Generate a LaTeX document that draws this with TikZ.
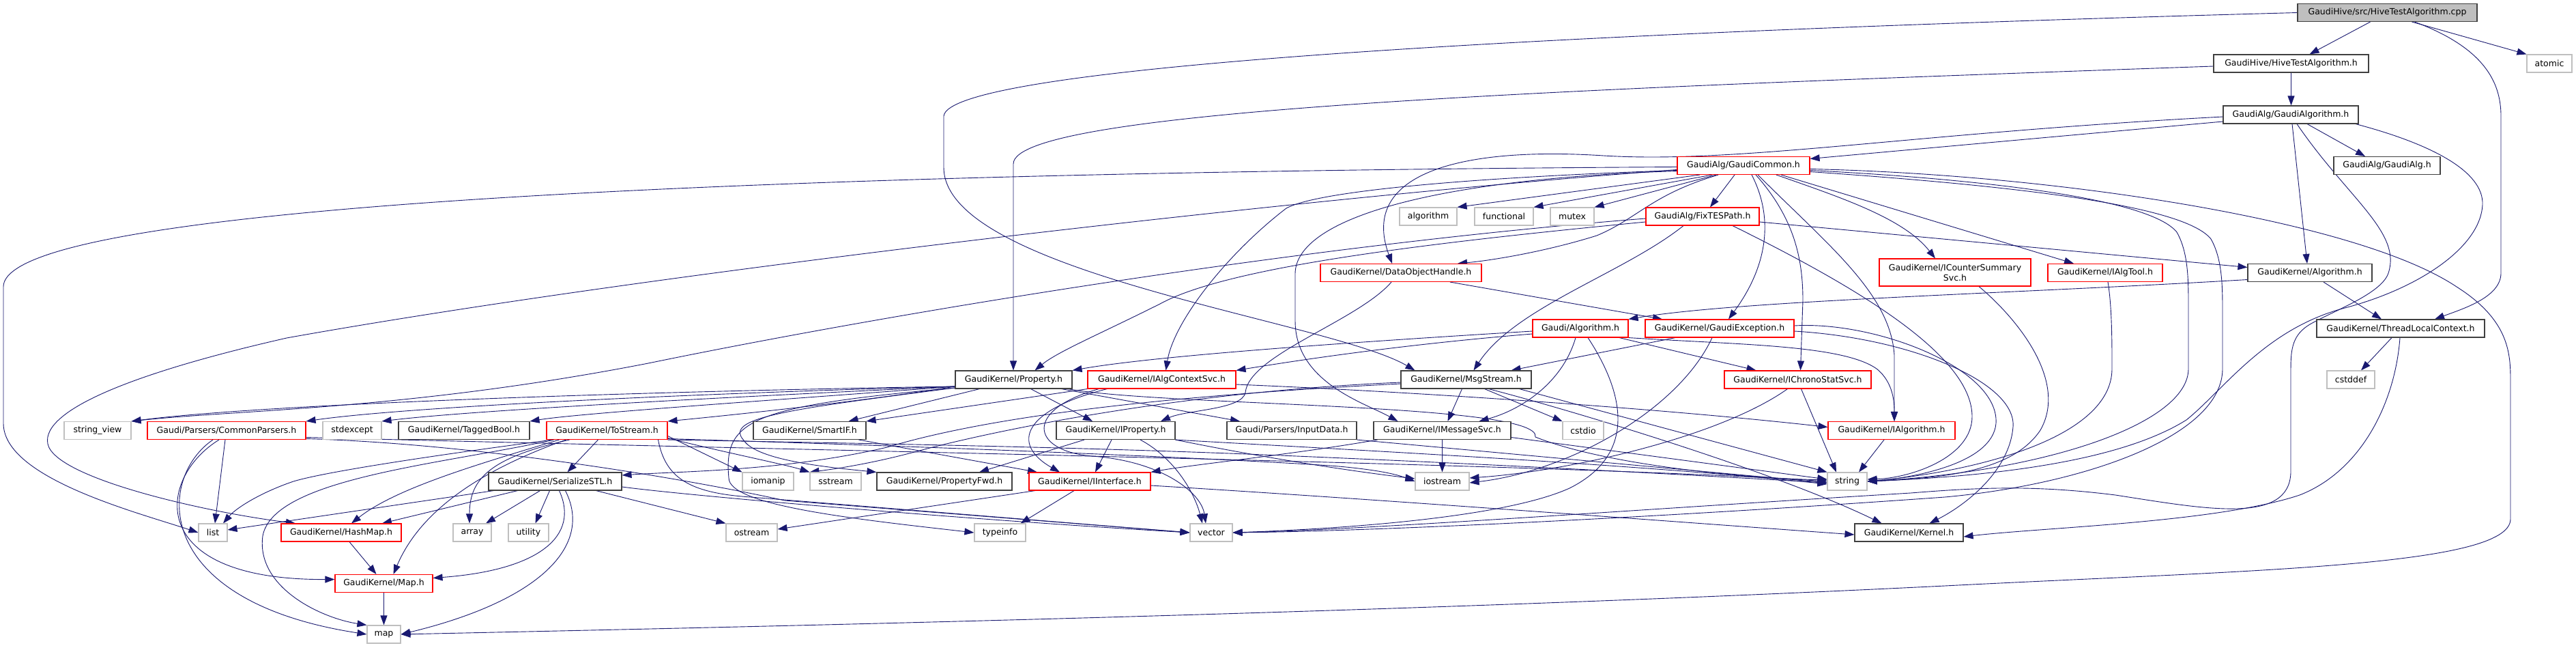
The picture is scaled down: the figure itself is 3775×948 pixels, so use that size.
\documentclass[tikz,border=0pt]{standalone}
\usepackage{fontspec}
\setmainfont{DejaVu Sans}
\usetikzlibrary{arrows.meta}
\definecolor{edgec}{HTML}{191970}
\definecolor{grayb}{HTML}{BFBFBF}
\definecolor{redb}{HTML}{FF0000}
\definecolor{blkb}{HTML}{404040}
\pgfdeclarelayer{bg}
\pgfsetlayers{bg,main}
\tikzset{
 nd/.style={draw, line width=1.1pt, minimum height=26pt, inner sep=0pt, fill=white, font=\fontsize{12.5}{15}\selectfont},
 nbk/.style={nd, draw=blkb},
 nrd/.style={nd, draw=redb},
 ngr/.style={nd, draw=grayb},
 ed/.style={draw=edgec, line width=0.9pt, -{Triangle[length=14pt,width=10pt]}},
}
\begin{document}
\begin{tikzpicture}[x=1pt,y=-1pt]
\useasboundingbox (0,0) rectangle (3775,948);
% nodes
\node[nbk, fill=grayb, minimum width=263pt] (cpp) at (3498.5,18.5) {GaudiHive/src/HiveTestAlgorithm.cpp};
\node[nbk, minimum width=227pt] (hiveh) at (3357.5,93) {GaudiHive/HiveTestAlgorithm.h};
\node[ngr, minimum width=66pt] (atomic) at (3736,93) {atomic};
\node[nbk, minimum width=198pt] (galgo) at (3357,168) {GaudiAlg/GaudiAlgorithm.h};
\node[nrd, minimum width=194pt] (gcommon) at (2555,242.5) {GaudiAlg/GaudiCommon.h};
\node[nbk, minimum width=156pt] (galg) at (3498,242.5) {GaudiAlg/GaudiAlg.h};
\node[ngr, minimum width=84pt] (algorithm) at (2093,317) {algorithm};
\node[ngr, minimum width=86pt] (functional) at (2204,317) {functional};
\node[ngr, minimum width=64pt] (mutex) at (2304,317) {mutex};
\node[nrd, minimum width=166pt] (fixtes) at (2495,317) {GaudiAlg/FixTESPath.h};
\node[nrd, minimum width=236pt] (doh) at (2053,399.5) {GaudiKernel/DataObjectHandle.h};
\node[nrd, minimum width=222pt, minimum height=40pt, align=center] (icounter) at (2865,399) {GaudiKernel/ICounterSummary\\Svc.h};
\node[nrd, minimum width=168pt] (ialgtool) at (3085,399.5) {GaudiKernel/IAlgTool.h};
\node[nbk, minimum width=182pt] (kalgo) at (3385,399.5) {GaudiKernel/Algorithm.h};
\node[nrd, minimum width=140pt] (galgorithm) at (2316,481) {Gaudi/Algorithm.h};
\node[nrd, minimum width=218pt] (gexc) at (2520,481) {GaudiKernel/GaudiException.h};
\node[nbk, minimum width=246pt] (tlc) at (3518,481) {GaudiKernel/ThreadLocalContext.h};
\node[nbk, minimum width=171pt] (property) at (1485.5,556) {GaudiKernel/Property.h};
\node[nrd, minimum width=217pt] (iacs) at (1702.5,556) {GaudiKernel/IAlgContextSvc.h};
\node[nbk, minimum width=191pt] (msgstream) at (2148.5,556) {GaudiKernel/MsgStream.h};
\node[nrd, minimum width=215pt] (ichrono) at (2634.5,556) {GaudiKernel/IChronoStatSvc.h};
\node[ngr, minimum width=70pt] (cstddef) at (3445,556) {cstddef};
\node[ngr, minimum width=98pt] (stringview) at (143,630.5) {string\_view};
\node[nrd, minimum width=232pt] (commonparsers) at (332,630.5) {Gaudi/Parsers/CommonParsers.h};
\node[ngr, minimum width=86pt] (stdexcept) at (516,630.5) {stdexcept};
\node[nbk, minimum width=192pt] (taggedbool) at (680,630.5) {GaudiKernel/TaggedBool.h};
\node[nrd, minimum width=177pt] (tostream) at (889.5,630.5) {GaudiKernel/ToStream.h};
\node[nbk, minimum width=165pt] (smartif) at (1186.5,630.5) {GaudiKernel/SmartIF.h};
\node[nbk, minimum width=174pt] (iproperty) at (1635,630.5) {GaudiKernel/IProperty.h};
\node[nbk, minimum width=190pt] (inputdata) at (1893,630.5) {Gaudi/Parsers/InputData.h};
\node[nbk, minimum width=201pt] (imsgsvc) at (2113.5,630.5) {GaudiKernel/IMessageSvc.h};
\node[ngr, minimum width=60pt] (cstdio) at (2320,630.5) {cstdio};
\node[nrd, minimum width=186pt] (ialgorithm) at (2772,630.5) {GaudiKernel/IAlgorithm.h};
\node[nbk, minimum width=195pt] (serialize) at (813.5,705) {GaudiKernel/SerializeSTL.h};
\node[ngr, minimum width=75pt] (iomanip) at (1125.5,705) {iomanip};
\node[ngr, minimum width=75pt] (sstream) at (1224.5,705) {sstream};
\node[nbk, minimum width=198pt] (propfwd) at (1384,705) {GaudiKernel/PropertyFwd.h};
\node[nrd, minimum width=178pt] (iinterface) at (1597,705) {GaudiKernel/IInterface.h};
\node[ngr, minimum width=79pt] (iostream) at (2113.5,705) {iostream};
\node[ngr, minimum width=58pt] (string) at (2707,705) {string};
\node[ngr, minimum width=42pt] (list) at (312,780) {list};
\node[nrd, minimum width=176pt] (hashmap) at (500,780) {GaudiKernel/HashMap.h};
\node[ngr, minimum width=56pt] (array) at (692,780) {array};
\node[ngr, minimum width=59pt] (utility) at (774.5,780) {utility};
\node[ngr, minimum width=75pt] (ostream) at (1101.5,780) {ostream};
\node[ngr, minimum width=75pt] (typeinfo) at (1465.5,780) {typeinfo};
\node[ngr, minimum width=62pt] (vector) at (1775,780) {vector};
\node[nbk, minimum width=159pt] (kernel) at (2797.5,780) {GaudiKernel/Kernel.h};
\node[nrd, minimum width=143pt] (maph) at (562.5,854.5) {GaudiKernel/Map.h};
\node[ngr, minimum width=49pt] (map) at (562.5,929) {map};

\begin{pgfonlayer}{bg}
\fill[white] (0,0) rectangle (3775,948);
% top part
\draw[ed] ([xshift=-25pt]cpp.south) -- ([xshift=27pt]hiveh.north);
\draw[ed] ([xshift=36pt]cpp.south) -- (atomic.north west);
\draw[ed] ([xshift=40pt]cpp.south) .. controls (3640,70) and (3665,120) .. (3665,170) -- (3665,400) .. controls (3665,435) and (3610,452) .. ([xshift=50pt]tlc.north);
\draw[ed] (cpp.west) .. controls (2200,50) and (1390,100) .. (1383,170) -- (1383,245) .. controls (1383,400) and (1950,470) .. ([xshift=-75pt]msgstream.north);
\draw[ed] (hiveh.south) -- ([xshift=0.5pt]galgo.north);
\draw[ed] ([yshift=-4pt]hiveh.west) .. controls (2300,130) and (1485,160) .. (1485,240) -- ([xshift=-0.5pt]property.north);
\draw[ed] ([yshift=-10pt]galgo.west) -- ([yshift=10pt]gcommon.east);
\draw[ed] ([yshift=-3pt]galgo.west) .. controls (2800,195) and (2550,240) .. (2350,228) .. controls (2150,215) and (1990,250) .. ([xshift=-13pt]doh.north);
\draw[ed] ([xshift=24pt]galgo.south) -- ([xshift=-32pt]galg.north);
\draw[ed] ([xshift=2pt]galgo.south) -- ([xshift=-4pt]kalgo.north);
\draw[ed] ([xshift=9pt]galgo.south) .. controls (3440,290) and (3520,340) .. (3500,400) .. controls (3490,430) and (3420,455) .. (3385,475) .. controls (3360,490) and (3357,510) .. (3357,540) -- (3357,690) .. controls (3357,770) and (3230,745) .. (3100,725) .. controls (2980,710) and (2900,714) .. (2800,722) .. controls (2400,746) and (2000,776) .. (vector.east);
\draw[ed] ([xshift=95pt]galgo.south) .. controls (3560,210) and (3640,250) .. (3638,300) .. controls (3635,360) and (3550,420) .. (3440,450) .. controls (3320,480) and (3260,570) .. (3204,615) .. controls (3100,680) and (2900,698) .. (string.east);
% GaudiCommon
\draw[ed] ([yshift=-2pt]gcommon.west) .. controls (1500,250) and (5,280) .. (5,420) -- (5,620) .. controls (5,700) and (200,750) .. (list.west);
\draw[ed] ([yshift=-6pt]gcommon.west) .. controls (1900,290) and (950,400) .. (420,495) .. controls (200,545) and (60,600) .. (70,650) .. controls (80,700) and (300,750) .. ([xshift=-67pt]hashmap.north);
\draw[ed] ([xshift=-64pt]gcommon.south) -- (algorithm.north east);
\draw[ed] ([xshift=-46pt]gcommon.south) -- (functional.north east);
\draw[ed] ([xshift=-40pt]gcommon.south) -- (mutex.north east);
\draw[ed] ([xshift=-13pt]gcommon.south) -- ([xshift=11pt]fixtes.north);
\draw[ed] ([xshift=-37pt]gcommon.south) .. controls (2420,285) and (2400,320) .. (2340,345) .. controls (2260,370) and (2180,382) .. ([xshift=83pt]doh.north);
\draw[ed] ([xshift=12pt]gcommon.south) .. controls (2600,320) and (2590,390) .. ([xshift=13pt]gexc.north);
\draw[ed] ([xshift=18pt]gcommon.south) .. controls (2630,320) and (2642,380) .. (2642,440) -- ([xshift=4pt]ichrono.north);
\draw[ed] ([xshift=21pt]gcommon.south) .. controls (2680,360) and (2770,430) .. (2776,520) -- ([xshift=4pt]ialgorithm.north);
\draw[ed] ([xshift=48pt]gcommon.south) .. controls (2700,290) and (2790,320) .. ([xshift=-29pt]icounter.north);
\draw[ed] ([xshift=55pt]gcommon.south) -- ([xshift=-46pt]ialgtool.north);
\draw[ed] ([yshift=-7pt]gcommon.east) .. controls (2900,262) and (3150,290) .. (3190,340) .. controls (3207,370) and (3207,410) .. (3207,450) -- (3207,540) .. controls (3207,620) and (3000,690) .. (string.east);
\draw[ed] ([yshift=-9pt]gcommon.east) .. controls (2950,272) and (3200,300) .. (3240,350) .. controls (3257,380) and (3257,420) .. (3257,460) -- (3257,540) .. controls (3257,640) and (3050,710) .. (2850,728) .. controls (2400,760) and (2000,778) .. (vector.east);
\draw[ed] ([yshift=-5pt]gcommon.east) .. controls (3000,255) and (3450,320) .. (3600,420) .. controls (3679,470) and (3679,520) .. (3679,560) -- (3679,760) .. controls (3679,830) and (3300,835) .. (2850,858) .. controls (2000,900) and (1000,920) .. (map.east);
\draw[ed] ([yshift=-7pt]gcommon.west) .. controls (2150,260) and (1930,280) .. (1885,305) .. controls (1800,370) and (1720,470) .. ([xshift=6pt]iacs.north);
\draw[ed] ([yshift=-8pt]gcommon.west) .. controls (2100,262) and (1900,320) .. (1898,400) -- (1898,470) .. controls (1898,560) and (2000,590) .. ([xshift=-65pt]imsgsvc.north);
% FixTESPath
\draw[ed] ([yshift=-8pt]fixtes.west) .. controls (2100,355) and (1800,390) .. (1700,445) .. controls (1610,490) and (1550,515) .. ([xshift=31pt]property.north);
\draw[ed] ([yshift=-3pt]fixtes.west) .. controls (1900,360) and (1300,460) .. (950,532) .. controls (600,600) and (350,600) .. (stringview.north east);
\draw[ed] ([yshift=-8pt]fixtes.east) -- ([yshift=8pt]kalgo.west);
\draw[ed] ([xshift=-28pt]fixtes.south) .. controls (2380,400) and (2220,450) .. ([xshift=11pt]msgstream.north);
\draw[ed] ([xshift=44pt]fixtes.south) .. controls (2720,420) and (2890,520) .. (2890,610) .. controls (2890,670) and (2800,700) .. ([yshift=3pt]string.east);
% DataObjectHandle
\draw[ed] ([xshift=72pt]doh.south) -- ([xshift=-84pt]gexc.north);
\draw[ed] ([xshift=-14pt]doh.south) .. controls (1990,470) and (1830,520) .. (1825,575) .. controls (1820,600) and (1740,600) .. ([xshift=66pt]iproperty.north);
% others upper
\draw[ed] ([xshift=35pt]icounter.south) .. controls (2960,470) and (3030,560) .. (2990,630) .. controls (2950,690) and (2850,700) .. (string.east);
\draw[ed] ([xshift=4pt]ialgtool.south) .. controls (3095,450) and (3095,500) .. (3095,540) .. controls (3095,640) and (2900,690) .. (string.east);
\draw[ed] ([yshift=-10pt]kalgo.west) .. controls (2950,430) and (2550,440) .. (galgorithm.north east);
\draw[ed] ([xshift=20pt]kalgo.south) -- ([xshift=-28pt]tlc.north);
\draw[ed] ([xshift=-13pt]tlc.south) -- ([xshift=15pt]cstddef.north);
\draw[ed] ([xshift=-1pt]tlc.south) .. controls (3510,590) and (3460,690) .. (3370,725) .. controls (3250,765) and (3000,772) .. ([yshift=-6pt]kernel.east);
% Gaudi/Algorithm.h
\draw[ed] ([yshift=-4pt]galgorithm.west) .. controls (2000,500) and (1700,520) .. (property.north east);
\draw[ed] ([yshift=-8pt]galgorithm.west) .. controls (2050,505) and (1900,528) .. (iacs.north east);
\draw[ed] ([xshift=-7pt]galgorithm.south) .. controls (2290,560) and (2230,600) .. ([xshift=54pt]imsgsvc.north);
\draw[ed] ([xshift=57pt]galgorithm.south) -- ([xshift=-61pt]ichrono.north);
\draw[ed] (galgorithm.south east) .. controls (2550,505) and (2700,505) .. (2750,540) .. controls (2775,560) and (2776,590) .. ([xshift=4pt]ialgorithm.north);
\draw[ed] ([xshift=11pt]galgorithm.south) .. controls (2370,560) and (2410,660) .. (2300,715) .. controls (2200,760) and (1950,775) .. (vector.east);
% GaudiException
\draw[ed] ([yshift=4pt]gexc.east) .. controls (2750,470) and (2930,540) .. (2925,620) .. controls (2920,680) and (2800,700) .. (string.east);
\draw[ed] ([xshift=-65pt]gexc.south) -- ([xshift=66pt]msgstream.north);
\draw[ed] ([xshift=-11pt]gexc.south) .. controls (2460,600) and (2300,690) .. ([yshift=-2pt]iostream.east);
\draw[ed] ([yshift=-4pt]gexc.east) .. controls (2800,495) and (2955,560) .. (2950,625) .. controls (2945,690) and (2880,740) .. ([xshift=30pt]kernel.north);
% Property.h
\draw[ed] ([yshift=-10pt]property.west) .. controls (1000,572) and (400,590) .. (stringview.north east);
\draw[ed] ([yshift=-10pt]property.west) .. controls (1050,575) and (600,595) .. (commonparsers.north east);
\draw[ed] ([yshift=-10pt]property.west) .. controls (1100,580) and (700,600) .. (stdexcept.north east);
\draw[ed] ([yshift=-10pt]property.west) .. controls (1150,585) and (850,605) .. (taggedbool.north east);
\draw[ed] ([yshift=-10pt]property.west) .. controls (1250,590) and (1050,610) .. (tostream.north east);
\draw[ed] ([xshift=-50pt]property.south) -- ([xshift=57pt]smartif.north);
\draw[ed] ([xshift=25pt]property.south) -- ([xshift=-34pt]iproperty.north);
\draw[ed] ([xshift=70pt]property.south) -- ([xshift=-76pt]inputdata.north);
\draw[ed] ([yshift=-12pt]property.west) .. controls (1150,600) and (1060,612) .. (1090,645) .. controls (1110,675) and (1220,685) .. (propfwd.north west);
\draw[ed] ([yshift=-12pt]property.west) .. controls (1100,595) and (1060,615) .. (1068,700) .. controls (1068,740) and (1250,760) .. (typeinfo.west);
\draw[ed] ([xshift=80pt]property.south) .. controls (1700,595) and (2260,590) .. (2250,640) .. controls (2350,680) and (2550,700) .. ([yshift=2pt]string.west);
% ToStream.h
\draw[ed] ([xshift=-80pt]tostream.south) .. controls (650,665) and (480,690) .. (430,705) .. controls (380,722) and (345,745) .. ([xshift=15pt]list.north);
\draw[ed] ([xshift=-70pt]tostream.south) .. controls (700,680) and (580,715) .. ([xshift=15pt]hashmap.north);
\draw[ed] ([xshift=-78pt]tostream.south) .. controls (650,680) and (400,700) .. (385,785) .. controls (375,860) and (470,905) .. (map.north west);
\draw[ed] ([xshift=-60pt]tostream.south) .. controls (700,690) and (615,750) .. ([xshift=14pt]maph.north);
\draw[ed] ([xshift=-13pt]tostream.south) -- ([xshift=18pt]serialize.north);
\draw[ed] ([xshift=-55pt]tostream.south) .. controls (720,670) and (688,700) .. ([xshift=-4pt]array.north);
\draw[ed] ([yshift=-8pt]tostream.east) -- (iomanip.north west);
\draw[ed] ([yshift=-11pt]tostream.east) .. controls (1050,660) and (1150,680) .. (sstream.north west);
\draw[ed] (tostream.south east) .. controls (1300,650) and (1600,655) .. (1900,668) .. controls (2300,685) and (2550,700) .. ([yshift=-2pt]string.west);
\draw[ed] ([xshift=75pt]tostream.south) .. controls (975,700) and (1010,722) .. (1100,728) -- (vector.west);
\draw[ed] ([yshift=-12pt]tostream.east) .. controls (1400,655) and (1800,672) .. (1950,682) .. controls (2000,686) and (2040,692) .. (iostream.west);
% SerializeSTL.h
\draw[ed] ([xshift=-90pt]serialize.south) -- ([yshift=4pt]list.east);
\draw[ed] ([xshift=-55pt]serialize.south) -- ([xshift=60pt]hashmap.north);
\draw[ed] ([xshift=-22pt]serialize.south) -- ([xshift=20pt]array.north);
\draw[ed] ([xshift=-8pt]serialize.south) -- ([xshift=10pt]utility.north);
\draw[ed] ([xshift=6pt]serialize.south) .. controls (850,785) and (790,835) .. ([yshift=8pt]maph.east);
\draw[ed] ([xshift=15pt]serialize.south) .. controls (870,800) and (790,880) .. (map.east);
\draw[ed] ([xshift=60pt]serialize.south) -- (ostream.north west);
\draw[ed] ([yshift=-8pt]serialize.east) .. controls (1000,725) and (1400,760) .. (vector.west);
% CommonParsers.h
\draw[ed] ([xshift=-2pt]commonparsers.south) -- ([xshift=3pt]list.north);
\draw[ed] ([xshift=-20pt]commonparsers.south) .. controls (230,700) and (220,880) .. (map.west);
\draw[ed] ([xshift=-11pt]commonparsers.south) .. controls (230,700) and (210,850) .. ([yshift=6pt]maph.west);
\draw[ed] ([yshift=-10pt]commonparsers.east) .. controls (1200,660) and (2300,680) .. (string.west);
\draw[ed] ([yshift=-12pt]commonparsers.east) .. controls (700,650) and (1000,700) .. (1150,733) -- (vector.west);
% maps
\draw[ed] ([xshift=12pt]hashmap.south) -- ([xshift=-11pt]maph.north);
\draw[ed] (maph.south) -- (map.north);
% interfaces
\draw[ed] ([xshift=72pt]smartif.south) -- ([xshift=-77pt]iinterface.north);
\draw[ed] ([xshift=-46pt]iproperty.south) -- ([xshift=51pt]propfwd.north);
\draw[ed] ([xshift=-6pt]iproperty.south) -- ([xshift=8pt]iinterface.north);
\draw[ed] ([xshift=36pt]iproperty.south) .. controls (1720,670) and (1750,720) .. ([xshift=-13pt]vector.north);
\draw[ed] (iproperty.south east) .. controls (2000,660) and (2400,680) .. ([yshift=-4pt]string.west);
\draw[ed] (iproperty.south east) .. controls (1850,670) and (1980,690) .. ([yshift=4pt]iostream.west);
\draw[ed] ([xshift=-80pt]iacs.south) .. controls (1500,600) and (1480,650) .. ([xshift=-44pt]iinterface.north);
\draw[ed] (iacs.south west) -- (smartif.north east);
\draw[ed] ([xshift=-92pt]iacs.south) .. controls (1500,600) and (1510,660) .. (1600,668) .. controls (1700,675) and (1760,720) .. ([xshift=-8pt]vector.north);
\draw[ed] ([yshift=-7pt]iacs.east) .. controls (2100,575) and (2450,600) .. ([yshift=5pt]ialgorithm.west);
% MsgStream.h
\draw[ed] ([xshift=-6pt]msgstream.south) -- ([xshift=8pt]imsgsvc.north);
\draw[ed] ([xshift=27pt]msgstream.south) -- (cstdio.north west);
\draw[ed] ([xshift=78pt]msgstream.south) -- (string.north west);
\draw[ed] ([xshift=33pt]msgstream.south) .. controls (2300,600) and (2600,690) .. ([xshift=-40pt]kernel.north);
\draw[ed] ([yshift=-6pt]msgstream.west) .. controls (1700,580) and (1450,610) .. (1300,655) .. controls (1150,690) and (1000,690) .. ([yshift=9pt]serialize.east);
\draw[ed] ([yshift=-4pt]msgstream.west) .. controls (1700,575) and (1420,640) .. (1340,662) .. controls (1280,678) and (1230,686) .. (sstream.north west);
% IMessageSvc etc
\draw[ed] (imsgsvc.south) -- (iostream.north);
\draw[ed] ([xshift=-95pt]imsgsvc.south) .. controls (1900,665) and (1750,680) .. (iinterface.north east);
\draw[ed] ([yshift=-10pt]imsgsvc.east) -- ([yshift=3pt]string.west);
\draw[ed] ([xshift=5pt]ichrono.south) -- ([xshift=-16pt]string.north);
\draw[ed] ([xshift=-15pt]ichrono.south) .. controls (2520,640) and (2300,690) .. ([yshift=5pt]iostream.east);
\draw[ed] ([xshift=-11pt]ialgorithm.south) -- ([xshift=17pt]string.north);
\draw[ed] (inputdata.south east) -- ([yshift=-2pt]string.west);
% IInterface.h
\draw[ed] ([xshift=-80pt]iinterface.south) -- ([yshift=5pt]ostream.east);
\draw[ed] ([xshift=-23pt]iinterface.south) -- ([xshift=30pt]typeinfo.north);
\draw[ed] ([yshift=-6pt]iinterface.east) .. controls (2000,730) and (2400,760) .. ([yshift=-3pt]kernel.west);
\end{pgfonlayer}
\end{tikzpicture}
\end{document}
